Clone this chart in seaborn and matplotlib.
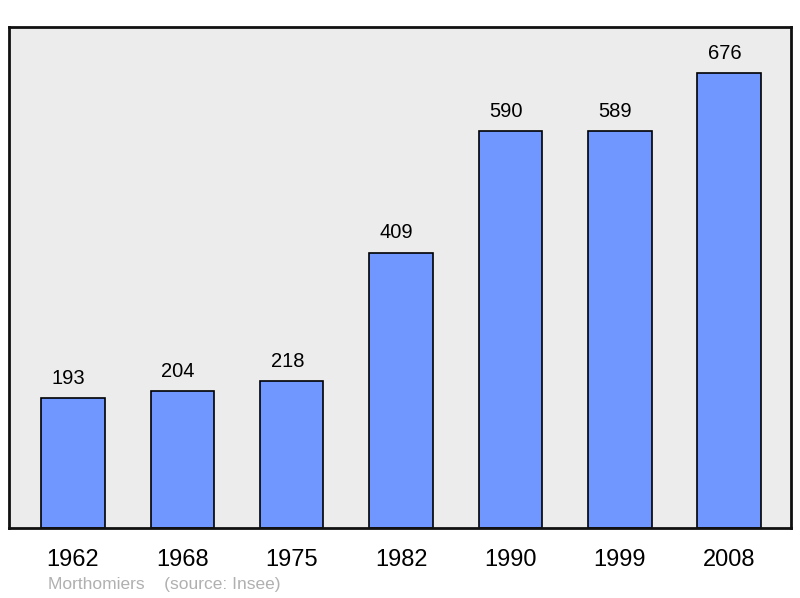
import matplotlib
matplotlib.use("Agg")
import matplotlib.pyplot as plt
import seaborn as sns
import pandas as pd

years = ["1962", "1968", "1975", "1982", "1990", "1999", "2008"]
population = [193, 204, 218, 409, 590, 589, 676]

df = pd.DataFrame({"year": years, "pop": population})

sns.set_theme(style="white")
plt.rcParams["font.family"] = ["Liberation Sans", "DejaVu Sans"]

fig = plt.figure(figsize=(8, 5.98), dpi=100)
ax = fig.add_axes([9 / 800, 70 / 598, 782 / 800, 501 / 598])
ax.set_facecolor("#ececec")

sns.barplot(data=df, x="year", y="pop", color="#7097ff", saturation=1,
            width=0.58, edgecolor="black", linewidth=1.2, ax=ax)

# value labels sit a little left of the bar centre in the original
for i, v in enumerate(population):
    ax.text(i - 0.04, v + 15, str(v), ha="center", va="bottom", fontsize=14.5, color="black")

ax.set_xlim(-0.585, 6.565)
ax.set_ylim(0, 744)
ax.set_yticks([])
ax.set_xlabel("")
ax.set_ylabel("")
ax.tick_params(axis="x", length=0, labelsize=17, pad=15, colors="black")
for s in ax.spines.values():
    s.set_visible(True)
    s.set_color("#111111")
    s.set_linewidth(2)

fig.text(48 / 800, 1 - 584 / 598, "Morthomiers    (source: Insee)", fontsize=12.5,
         color="#b0b0b0", ha="left", va="center")

fig.savefig("out.png", dpi=100)
